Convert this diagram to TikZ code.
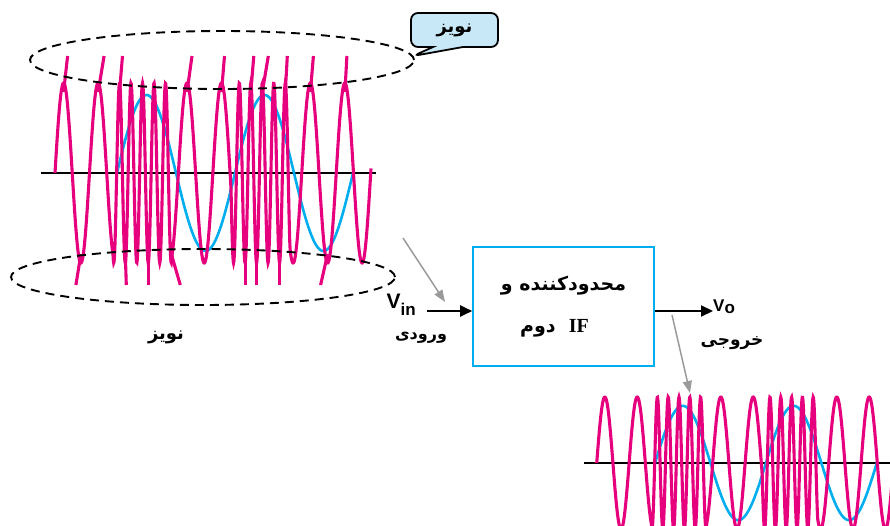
\documentclass[tikz,border=0pt]{standalone}
\usepackage{fontspec}
\setmainfont{Liberation Sans}
\newfontfamily\farsi[Script=Arabic]{DejaVu Sans}
\newfontfamily\ifserif{Liberation Serif}
\TeXXeTstate=1
\usetikzlibrary{positioning,arrows.meta,shapes.callouts}

\definecolor{fmpink}{HTML}{E6007E}
\definecolor{fmblue}{HTML}{00AEEF}
\definecolor{tagfill}{HTML}{C8E7F7}
\definecolor{hintgray}{HTML}{9A9A9A}

\begin{document}
\begin{tikzpicture}[x=1pt, y=-1pt,
    carrier/.style = {fmpink, line width=3.1pt},
    message/.style = {fmblue, line width=2.6pt},
    axisline/.style = {black, line width=2.5pt},
    noiserim/.style = {black, dash pattern=on 9pt off 6pt, line width=1.9pt},
    sig/.style = {-{Triangle[length=12pt,width=11pt]}, line width=2pt},
    hint/.style = {hintgray, line width=1.5pt, -{Triangle[length=12pt,width=9pt]}},
    farsilabel/.style = {font=\farsi\bfseries\fontsize{16}{18}\selectfont, inner sep=0pt},
    siglabel/.style = {font=\bfseries\fontsize{21}{22}\selectfont, inner sep=0pt},
    limiterbox/.style = {draw=fmblue, line width=1.6pt, minimum width=181pt, minimum height=119pt,
        align=center, font=\farsi\bfseries\fontsize{19}{42}\selectfont},
    noisetag/.style = {rectangle callout, draw=black, fill=tagfill, line width=1.8pt, rounded corners=7pt,
        minimum width=87pt, minimum height=34pt, callout pointer width=30pt,
        font=\farsi\bfseries\fontsize{18}{20}\selectfont},
    fmwave/.pic = {
        \draw[axisline] (-76,0) -- (259,0);
        \draw[message] plot[domain=0:236, samples=200, variable=\t] (\t, {-78*sin(3.05085*\t)});
        \draw[carrier] plot[domain=-62:254, samples=900, variable=\t]
            (\t, {-90*sin(20.88*(\t+62) + 10.44*(min(59 - abs(mod(\t+240,118)-59), 232-\t) - 58))});
    }]
    \useasboundingbox (0,0) rectangle (890,526);

    % noisy input signal
    \pic at (117,173) {fmwave};
    \foreach \sx/\dx in {63.6/4, 98.1/6, 119.5/3, 187/5, 221.5/3, 250.8/3, 262.3/6, 285.3/2, 310.4/3, 344.9/2}
        \draw[carrier] (\sx,92) -- ++(\dx,-36);
    \foreach \sx/\dx in {80.9/-5, 125.3/1, 148.3/0, 171.3/9, 245.1/0, 256.6/0, 279.6/0, 327.6/-7}
        \draw[carrier] (\sx,254) -- ++(\dx,31);
    \draw[noiserim] (222,60) ellipse [x radius=192pt, y radius=29pt];
    \draw[noiserim] (203,277) ellipse [x radius=192pt, y radius=28pt];
    \node[noisetag, callout absolute pointer={(413,56)}] (tag) at (454.5,30) {\beginR نویز\endR};
    \node[farsilabel, font=\farsi\bfseries\fontsize{18}{20}\selectfont] (noiseword) at (166,337) {\beginR نویز\endR};

    % limiter block
    \node[limiterbox] (limiter) at (563.5,306.5) {\beginR محدودکننده  و\endR\\
        \beginR\kern18pt\beginL{\ifserif\fontsize{20}{20}\selectfont IF}\endL{}\ \ دوم\endR};
    \coordinate (vin) at (427,311);
    \coordinate (vout) at (713,311);
    \draw[sig] (vin) -- (vin -| limiter.west);
    \draw[sig] (vout -| limiter.east) -- (vout);
    \node[siglabel, anchor=base east] (vinlabel) at ([xshift=-11pt, yshift=3pt]vin)
        {V\raisebox{-7pt}{\fontsize{17}{18}\selectfont in}};
    \node[farsilabel] (vinword) at (421,338) {\beginR ورودی\endR};
    \node[siglabel, anchor=base west, font=\bfseries\fontsize{17}{18}\selectfont] (volabel) at (vout)
        {V\raisebox{-2pt}{o}};
    \node[farsilabel, font=\farsi\bfseries\fontsize{17}{18}\selectfont] (voword) at (732,343) {\beginR خروجی\endR};

    % hints
    \coordinate (intail) at (403,238);
    \coordinate (intip) at (445,302);
    \coordinate (outtail) at (672,315);
    \coordinate (outtip) at (690,393);
    \draw[hint] (intail) -- (intip);
    \draw[hint] (outtail) -- (outtip);

    % limited output signal
    \pic[xscale=0.94, yscale=0.733] at (655,463) {fmwave};
\end{tikzpicture}
\end{document}
